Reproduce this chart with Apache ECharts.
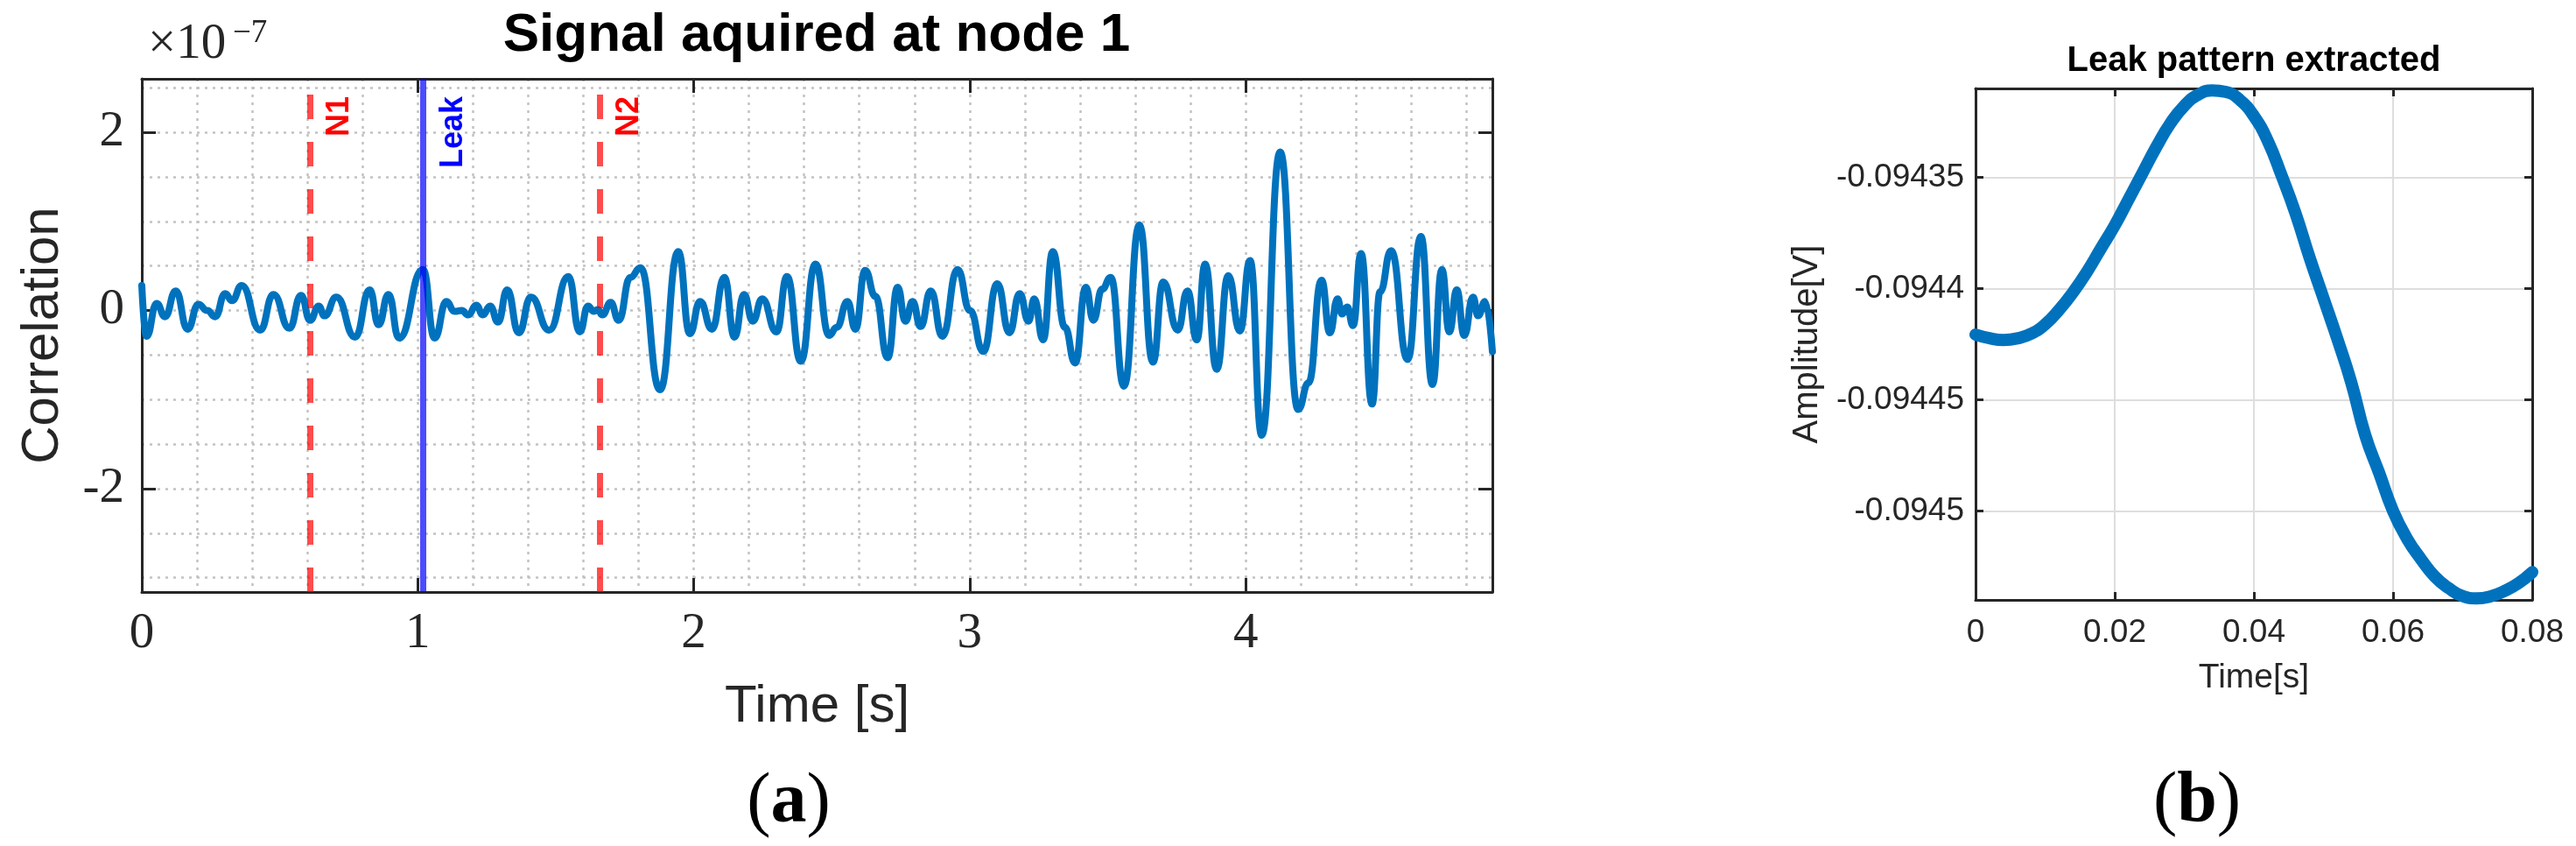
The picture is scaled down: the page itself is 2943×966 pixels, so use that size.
<!DOCTYPE html>
<html>
<head>
<meta charset="utf-8">
<script src="https://cdn.jsdelivr.net/npm/echarts@6/dist/echarts.min.js"></script>
<style>
html,body{margin:0;padding:0;background:#ffffff;}
#chart{width:2943px;height:966px;}
</style>
</head>
<body>
<div id="chart"></div>
<script>
// ---------- Panel (a): correlation signal at node 1 (values in units of 1e-7) ----------
const signalTime = [
  0.000, 0.017, 0.054, 0.084, 0.123, 0.166, 0.205, 0.237, 0.266, 0.302, 0.327, 0.362, 0.429, 0.477, 0.535, 0.577, 0.610, 0.641, 0.662, 0.705, 0.773, 0.826, 0.858, 0.894, 0.932,
  1.019, 1.061, 1.104, 1.133, 1.159, 1.183, 1.212, 1.236, 1.262, 1.291, 1.324, 1.366, 1.410, 1.476, 1.546, 1.587, 1.617, 1.638, 1.652, 1.669, 1.699, 1.728, 1.770, 1.807, 1.878, 1.944,
  1.986, 2.023, 2.066, 2.111, 2.148, 2.182, 2.214, 2.248, 2.300, 2.338, 2.388, 2.441, 2.491, 2.518, 2.557, 2.586, 2.621, 2.658, 2.703, 2.739, 2.767, 2.793, 2.822, 2.859, 2.901,
  2.956, 3.001, 3.049, 3.100, 3.144, 3.181, 3.213, 3.234, 3.266, 3.301, 3.345, 3.382, 3.421, 3.448, 3.480, 3.511, 3.559, 3.615, 3.664, 3.701, 3.754, 3.789, 3.823, 3.853, 3.895,
  3.937, 3.979, 4.016, 4.058, 4.125, 4.190, 4.228, 4.275, 4.305, 4.333, 4.349, 4.368, 4.389, 4.418, 4.458, 4.487, 4.527, 4.587, 4.635, 4.677, 4.711, 4.738, 4.765, 4.792, 4.824, 4.842, 4.868, 4.894
];
const signalCorr = [
  0.28, -0.29, 0.08, -0.07, 0.22, -0.21, 0.07, 0.00, -0.07, 0.19, 0.11, 0.28, -0.22, 0.18, -0.20, 0.17, -0.11, 0.05, -0.06, 0.15, -0.30, 0.23, -0.16, 0.18, -0.31,
  0.46, -0.31, 0.10, -0.01, 0.00, -0.05, 0.06, -0.05, 0.05, -0.13, 0.23, -0.25, 0.15, -0.22, 0.38, -0.24, 0.05, -0.01, 0.01, -0.05, 0.09, -0.11, 0.37, 0.48, -0.89, 0.66,
  -0.26, 0.10, -0.21, 0.37, -0.30, 0.18, -0.12, 0.13, -0.24, 0.38, -0.57, 0.52, -0.28, -0.19, 0.10, -0.21, 0.45, 0.16, -0.53, 0.26, -0.12, 0.10, -0.18, 0.22, -0.29,
  0.46, 0.00, -0.46, 0.30, -0.25, 0.19, -0.12, 0.13, -0.33, 0.66, -0.19, -0.59, 0.26, -0.11, 0.24, 0.37, -0.85, 0.96, -0.58, 0.32, -0.22, 0.22, -0.33, 0.52, -0.66,
  0.39, -0.23, 0.56, -1.40, 1.78, -1.11, -0.81, 0.34, -0.25, 0.13, -0.04, 0.04, -0.17, 0.64, -1.05, 0.21, 0.67, -0.55, 0.83, -0.83, 0.46, -0.24, 0.23, -0.28, 0.15, -0.06, 0.10, -0.46
];
const markerNames = ['N1', 'Leak', 'N2'];
const markerTimes = [0.612, 1.017, 1.662];
const leftXTicks = [0, 1, 2, 3, 4];
const leftYTicks = [-2, 0, 2];
const leftXGrid = [0.2, 0.4, 0.6, 0.8, 1, 1.2, 1.4, 1.6, 1.8, 2, 2.2, 2.4, 2.6, 2.8, 3, 3.2, 3.4, 3.6, 3.8, 4, 4.2, 4.4, 4.6, 4.8];
const leftYGrid = [-3, -2.5, -2, -1.5, -1, -0.5, 0, 0.5, 1, 1.5, 2, 2.5];

// ---------- Panel (b): extracted leak pattern ----------
const patternTime = [
  0, 0.002, 0.004, 0.006, 0.008, 0.010, 0.012, 0.014, 0.016, 0.018, 0.020, 0.022, 0.024, 0.026, 0.028, 0.030, 0.032, 0.034, 0.036, 0.038, 0.040,
  0.042, 0.044, 0.046, 0.048, 0.050, 0.052, 0.054, 0.056, 0.058, 0.060, 0.062, 0.064, 0.066, 0.068, 0.070, 0.072, 0.074, 0.076, 0.078, 0.080
];
const patternAmp = [
  -0.0944207, -0.0944223, -0.0944231, -0.0944224, -0.0944203, -0.0944161, -0.0944096, -0.0944017, -0.0943925, -0.0943820, -0.0943716,
  -0.0943598, -0.0943480, -0.0943362, -0.0943257, -0.0943178, -0.0943128, -0.0943109, -0.0943116, -0.0943152, -0.0943224,
  -0.0943336, -0.0943493, -0.0943663, -0.0943860, -0.0944043, -0.0944227, -0.0944423, -0.0944659, -0.0944829, -0.0945000,
  -0.0945124, -0.0945216, -0.0945295, -0.0945347, -0.0945383, -0.0945393, -0.0945384, -0.0945360, -0.0945325, -0.0945275
];
const rightXTicks = [0, 0.02, 0.04, 0.06, 0.08];
const rightYTicks = [-0.0945, -0.09445, -0.0944, -0.09435];

// ---------- styles ----------
const SANS = 'Liberation Sans';
const SERIF = 'Liberation Serif';
const AXC = '#262626';
const LINE_BLUE = '#0072BD';

const chart = echarts.init(document.getElementById('chart'), null, {renderer: 'canvas'});

function frameAxis(base) {
  return Object.assign({
    type: 'value',
    axisLine: {show: true, onZero: false, lineStyle: {color: AXC, width: 3}},
    splitLine: {show: false}
  }, base);
}

const leftTickStyle = {show: true, inside: true, length: 16, lineStyle: {color: AXC, width: 3}};
const rightTickStyle = {show: true, inside: true, length: 9, lineStyle: {color: AXC, width: 3}};
const dottedGrid = {show: true, lineStyle: {color: '#c2c2c2', width: 2.5, type: [3, 6]}};
const solidGrid = {show: true, lineStyle: {color: '#dedede', width: 2}};

const option = {
  backgroundColor: '#ffffff',
  animation: false,
  title: [
    {text: 'Signal aquired at node 1', left: 933, top: 10, textAlign: 'center', padding: 0,
     textStyle: {fontFamily: SANS, fontSize: 62, fontWeight: 'bold', color: '#000'}},
    {text: 'Leak pattern extracted', left: 2575, top: 50, textAlign: 'center', padding: 0,
     textStyle: {fontFamily: SANS, fontSize: 40, fontWeight: 'bold', color: '#000'}}
  ],
  grid: [
    {left: 162, top: 90, width: 1543, height: 586, containLabel: false},
    {left: 2257, top: 101, width: 636, height: 584, containLabel: false}
  ],
  xAxis: [
    // panel (a)
    frameAxis({gridIndex: 0, position: 'bottom', min: 0, max: 4.894,
      axisTick: Object.assign({customValues: leftXTicks}, leftTickStyle),
      axisLabel: {customValues: leftXTicks, margin: 20, fontFamily: SERIF, fontSize: 57, color: AXC, formatter: v => String(v)},
      name: 'Time [s]', nameLocation: 'middle', nameGap: 101,
      nameTextStyle: {fontFamily: SANS, fontSize: 60, color: AXC}}),
    frameAxis({gridIndex: 0, position: 'top', min: 0, max: 4.894,
      axisTick: Object.assign({customValues: leftXTicks}, leftTickStyle),
      axisLabel: {show: false}}),
    {type: 'value', gridIndex: 0, position: 'bottom', min: 0, max: 4.894,
      axisLine: {show: false, onZero: false}, axisTick: {show: false, customValues: leftXGrid},
      axisLabel: {show: false}, splitLine: dottedGrid},
    // panel (b)
    frameAxis({gridIndex: 1, position: 'bottom', min: 0, max: 0.08,
      axisTick: Object.assign({customValues: rightXTicks}, rightTickStyle),
      axisLabel: {customValues: rightXTicks, margin: 19, fontFamily: SANS, fontSize: 37, color: AXC, formatter: v => String(v)},
      splitLine: solidGrid,
      name: 'Time[s]', nameLocation: 'middle', nameGap: 70,
      nameTextStyle: {fontFamily: SANS, fontSize: 39, color: AXC}}),
    frameAxis({gridIndex: 1, position: 'top', min: 0, max: 0.08,
      axisTick: Object.assign({customValues: rightXTicks}, rightTickStyle),
      axisLabel: {show: false}})
  ],
  yAxis: [
    // panel (a)
    frameAxis({gridIndex: 0, position: 'left', min: -3.16, max: 2.6,
      axisTick: Object.assign({customValues: leftYTicks}, leftTickStyle),
      axisLabel: {customValues: leftYTicks, margin: 20, fontFamily: SERIF, fontSize: 57, color: AXC, formatter: v => String(v)},
      name: 'Correlation', nameLocation: 'middle', nameGap: 83,
      nameTextStyle: {fontFamily: SANS, fontSize: 60, color: AXC}}),
    frameAxis({gridIndex: 0, position: 'right', min: -3.16, max: 2.6,
      axisTick: Object.assign({customValues: leftYTicks}, leftTickStyle),
      axisLabel: {show: false}}),
    {type: 'value', gridIndex: 0, position: 'left', min: -3.16, max: 2.6,
      axisLine: {show: false, onZero: false}, axisTick: {show: false, customValues: leftYGrid},
      axisLabel: {show: false}, splitLine: dottedGrid},
    // panel (b)
    frameAxis({gridIndex: 1, position: 'left', min: -0.09454, max: -0.09431,
      axisTick: Object.assign({customValues: rightYTicks}, rightTickStyle),
      axisLabel: {customValues: rightYTicks, margin: 13, fontFamily: SANS, fontSize: 37, color: AXC, formatter: v => String(v)},
      splitLine: solidGrid,
      name: 'Amplitude[V]', nameLocation: 'middle', nameGap: 172,
      nameTextStyle: {fontFamily: SANS, fontSize: 40, color: AXC}}),
    frameAxis({gridIndex: 1, position: 'right', min: -0.09454, max: -0.09431,
      axisTick: Object.assign({customValues: rightYTicks}, rightTickStyle),
      axisLabel: {show: false}})
  ],
  series: [
    {
      type: 'line', xAxisIndex: 0, yAxisIndex: 0,
      data: signalTime.map((t, i) => [t, signalCorr[i]]),
      showSymbol: false, symbol: 'none', smooth: 0.5, smoothMonotone: 'x', clip: false,
      lineStyle: {color: LINE_BLUE, width: 8, cap: 'round', join: 'round'},
      z: 3,
      markLine: {
        silent: true, symbol: ['none', 'none'], animation: false, z: 4,
        data: markerTimes.map((t, i) => {
          const isLeak = markerNames[i] === 'Leak';
          return {
            xAxis: t,
            lineStyle: isLeak
              ? {color: 'rgba(0,0,255,0.7)', width: 7, type: 'solid'}
              : {color: 'rgba(255,0,0,0.7)', width: 7, type: [28, 26]},
            label: {
              show: true, formatter: markerNames[i], position: 'insideEndBottom', distance: [20, 16],
              fontFamily: SANS, fontSize: 36, fontWeight: 'bold',
              color: isLeak ? '#0000ff' : '#ff0000'
            }
          };
        })
      }
    },
    {
      type: 'line', xAxisIndex: 3, yAxisIndex: 3,
      data: patternTime.map((t, i) => [t, patternAmp[i]]),
      showSymbol: false, symbol: 'none', smooth: true, clip: false,
      lineStyle: {color: LINE_BLUE, width: 14, cap: 'round', join: 'round'},
      z: 3
    }
  ],
  graphic: [
    {type: 'text', x: 169, y: 51, style: {text: '×10', fontFamily: SERIF, fontSize: 57, fill: AXC, align: 'left', verticalAlign: 'middle'}},
    {type: 'text', x: 266, y: 38, style: {text: '−7', fontFamily: SERIF, fontSize: 37, fill: AXC, align: 'left', verticalAlign: 'middle'}},
    {type: 'text', x: 901, y: 917, style: {text: '{p|(}{l|a}{p|)}', align: 'center', verticalAlign: 'middle',
      rich: {p: {fontFamily: SERIF, fontSize: 82, fill: '#000'}, l: {fontFamily: SERIF, fontSize: 82, fontWeight: 'bold', fill: '#000'}}}},
    {type: 'text', x: 2510, y: 916, style: {text: '{p|(}{l|b}{p|)}', align: 'center', verticalAlign: 'middle',
      rich: {p: {fontFamily: SERIF, fontSize: 82, fill: '#000'}, l: {fontFamily: SERIF, fontSize: 82, fontWeight: 'bold', fill: '#000'}}}}
  ]
};

chart.setOption(option);
</script>
</body>
</html>
